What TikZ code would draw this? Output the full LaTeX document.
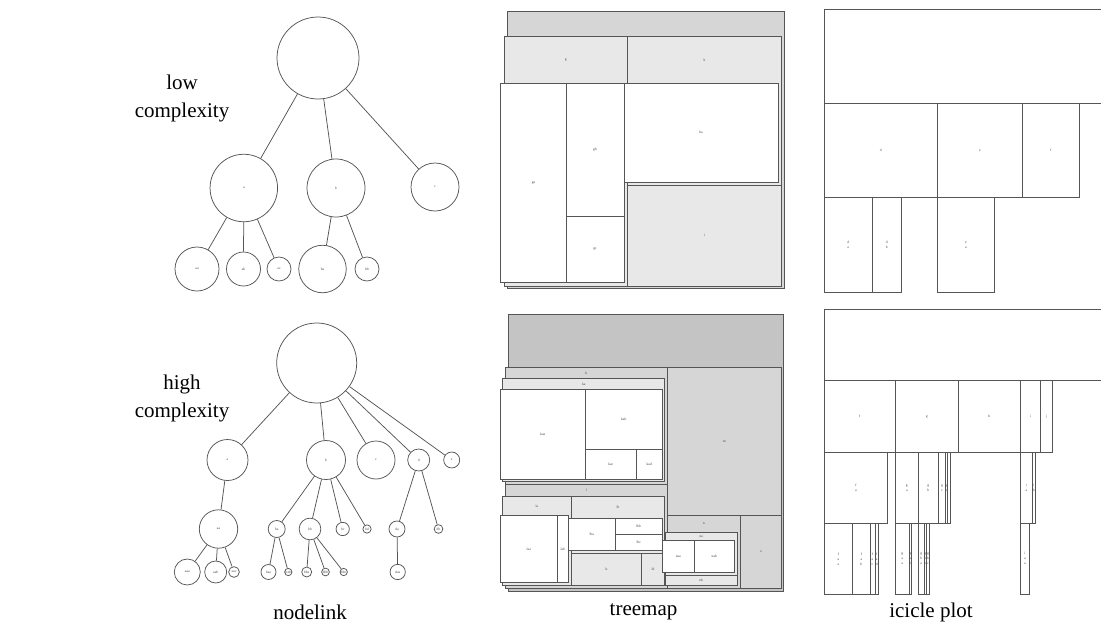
\documentclass[tikz,border=0pt]{standalone}
\usepackage{fontspec}
\setmainfont{Liberation Serif}
\definecolor{bd}{HTML}{555555}
\definecolor{txt}{HTML}{444444}
\definecolor{ga}{HTML}{C4C4C4}
\definecolor{gb}{HTML}{D6D6D6}
\definecolor{gc}{HTML}{E8E8E8}
\tikzset{
  nl/.style={circle, draw=bd, line width=0.75pt, inner sep=0pt, fill=white, font=\fontsize{3.6}{4}\selectfont, text=txt},
  edge/.style={draw=bd, line width=0.75pt},
  tm/.style={draw=bd, line width=0.75pt},
  tl/.style={font=\fontsize{3.6}{4}\selectfont, text=txt, inner sep=0pt},
  il/.style={font=\fontsize{3.6}{5}\selectfont, text=txt, inner sep=0pt, align=center},
  big/.style={font=\fontsize{21}{28}\selectfont, align=center, inner sep=0pt}
}
\newcommand\tbox[5]{\draw[tm, fill=#5] (#1,#2) rectangle (#3,#4);}
\newcommand\ibox[5]{\draw[tm, fill=white] (#1,#2) rectangle (#3,#4); \node[il] at ({(#1+#3)/2},{(#2+#4)/2}) {#5};}
\begin{document}
\begin{tikzpicture}[x=1pt, y=-1pt]
\useasboundingbox (0,0) rectangle (1101,632);

% ---------- row labels ----------
\node[big] (lowlab) at (182,98) {low\\complexity};
\node[big] (highlab) at (182,398) {high\\complexity};
\node[big] (nodelinklab) at (310,612) {nodelink};
\node[big] (treemaplab) at (643.5,612) {treemap};
\node[big] (iciclelab) at (931,612) {icicle plot};

% ---------- nodelink low ----------
\node[nl, minimum size=82pt] (Lr) at (318,58) {};
\node[nl, minimum size=67.5pt] (La) at (243.8,188) {a};
\node[nl, minimum size=58pt] (Lb) at (336,188) {b};
\node[nl, minimum size=48pt] (Lc) at (435,187) {c};
\node[nl, minimum size=44pt] (Laa) at (197,269) {aa};
\node[nl, minimum size=34pt] (Lab) at (243.5,269) {ab};
\node[nl, minimum size=24pt] (Lac) at (279,269) {ac};
\node[nl, minimum size=47.5pt] (Lba) at (322.5,269) {ba};
\node[nl, minimum size=24pt] (Lbb) at (367,269) {bb};
\foreach \p/\c in {Lr/La, Lr/Lb, Lr/Lc, La/Laa, La/Lab, La/Lac, Lb/Lba, Lb/Lbb}
  \draw[edge] (\p) -- (\c);

% ---------- nodelink high ----------
\node[nl, minimum size=80pt] (Hr) at (316.7,363) {};
\node[nl, minimum size=41pt] (Ha) at (227.5,460) {a};
\node[nl, minimum size=39pt] (Hb) at (326,460) {b};
\node[nl, minimum size=38pt] (Hc) at (376,460) {c};
\node[nl, minimum size=22pt] (Hd) at (418.7,460) {d};
\node[nl, minimum size=16pt] (He) at (451.7,460) {e};
\node[nl, minimum size=38.4pt] (Haa) at (218.5,529) {aa};
\node[nl, minimum size=17pt] (Hba) at (276.7,529) {ba};
\node[nl, minimum size=21.7pt] (Hbb) at (310,529) {bb};
\node[nl, minimum size=13.3pt] (Hbc) at (342.7,529) {bc};
\node[nl, minimum size=8.3pt] (Hbd) at (367,529) {bd};
\node[nl, minimum size=16pt] (Hda) at (397,529) {da};
\node[nl, minimum size=8.7pt] (Hdb) at (438.5,529) {db};
\node[nl, minimum size=26pt] (Haaa) at (187.3,572) {aaa};
\node[nl, minimum size=22pt] (Haab) at (215.7,572) {aab};
\node[nl, minimum size=10.7pt] (Haac) at (234,572) {aac};
\node[nl, minimum size=15pt] (Hbaa) at (268.5,572) {baa};
\node[nl, minimum size=7.3pt] (Hbab) at (288.3,572) {bab};
\node[nl, minimum size=10pt] (Hbba) at (306.7,572) {bba};
\node[nl, minimum size=7.7pt] (Hbbb) at (325.5,572) {bbb};
\node[nl, minimum size=7.3pt] (Hbbc) at (343.7,572) {bbc};
\node[nl, minimum size=15.3pt] (Hdaa) at (397.7,572) {daa};
\foreach \p/\c in {Hr/Ha, Hr/Hb, Hr/Hc, Hr/Hd, Hr/He, Ha/Haa, Haa/Haaa, Haa/Haab, Haa/Haac,
  Hb/Hba, Hb/Hbb, Hb/Hbc, Hb/Hbd, Hba/Hbaa, Hba/Hbab, Hbb/Hbba, Hbb/Hbbb, Hbb/Hbbc,
  Hd/Hda, Hd/Hdb, Hda/Hdaa}
  \draw[edge] (\p) -- (\c);

% ---------- treemap low ----------
\tbox{507.3}{11}{784.7}{288.3}{gb}
\tbox{504}{36}{627.3}{286}{gc}
\tbox{627.3}{36}{781.7}{185.7}{gc}
\tbox{627.3}{185.7}{781.7}{286}{gc}
\tbox{500.7}{83}{566.3}{282.7}{white}
\tbox{566.3}{83}{624}{216}{white}
\tbox{566.3}{216}{624}{282.7}{white}
\tbox{624}{83}{778}{182.3}{white}
\node[tl] (Tg) at (565.7,60) {g};
\node[tl] (Th) at (704.5,60) {h};
\node[tl] (Tga) at (533.5,183) {ga};
\node[tl] (Tgb) at (595,149.5) {gb};
\node[tl] (Tgc) at (595,249.3) {gc};
\node[tl] (Tha) at (701,132.7) {ha};
\node[tl] (Ti) at (704.5,235.8) {i};

% ---------- treemap high ----------
\tbox{508}{314.3}{783.7}{591}{ga}
\tbox{505.3}{367.3}{667.3}{484.3}{gb}
\tbox{505.3}{484.3}{667.3}{588.3}{gb}
\tbox{667.3}{367.3}{781.3}{515}{gb}
\tbox{667.3}{515}{740.3}{588.3}{gb}
\tbox{740.3}{515}{781.3}{588.3}{gb}
\tbox{502.7}{378.3}{664.7}{481.7}{gc}
\tbox{502.7}{496.3}{571.3}{585.7}{gc}
\tbox{571.3}{496.3}{664.7}{553.3}{gc}
\tbox{571.3}{553.3}{641.3}{585.7}{gc}
\tbox{641.3}{553.3}{664.7}{585.7}{gc}
\tbox{665}{532.7}{737.3}{575.3}{gc}
\tbox{665}{575.3}{737.3}{585.7}{gc}
\tbox{500}{389.7}{585.3}{479.3}{white}
\tbox{585.3}{389.7}{662}{449.3}{white}
\tbox{585.3}{449.3}{636.3}{479.3}{white}
\tbox{636.3}{449.3}{662}{479.3}{white}
\tbox{500.3}{515.3}{557.3}{582.3}{white}
\tbox{557.3}{515.3}{568.3}{582.3}{white}
\tbox{568.3}{518}{615.3}{550.3}{white}
\tbox{615.3}{518}{662}{534}{white}
\tbox{615.3}{534}{662}{550.3}{white}
\tbox{662.3}{540.7}{694.3}{572.3}{white}
\tbox{694.3}{540.7}{734.3}{572.3}{white}
\node[tl] (Uk) at (586.3,372.8) {k};
\node[tl] (Uka) at (583.7,384) {ka};
\node[tl] (Ukaa) at (542.7,434.5) {kaa};
\node[tl] (Ukab) at (623.7,419.5) {kab};
\node[tl] (Ukac) at (610.8,464.3) {kac};
\node[tl] (Ukad) at (649.2,464.3) {kad};
\node[tl] (Ul) at (586.3,490.3) {l};
\node[tl] (Ula) at (537,506) {la};
\node[tl] (Ulb) at (618,507) {lb};
\node[tl] (Ulaa) at (528.8,548.8) {laa};
\node[tl] (Ulab) at (562.8,548.8) {lab};
\node[tl] (Ulba) at (591.8,534.2) {lba};
\node[tl] (Ulbb) at (638.7,526) {lbb};
\node[tl] (Ulbc) at (638.7,542.2) {lbc};
\node[tl] (Ulc) at (606.3,569.5) {lc};
\node[tl] (Uld) at (653,569.5) {ld};
\node[tl] (Um) at (724.3,441.2) {m};
\node[tl] (Un) at (703.8,524) {n};
\node[tl] (Una) at (701.2,537) {na};
\node[tl] (Unaa) at (678.3,556.5) {naa};
\node[tl] (Unab) at (714.3,556.5) {nab};
\node[tl] (Unb) at (701.2,580.5) {nb};
\node[tl] (Uo) at (760.8,551.7) {o};

% ---------- icicle low ----------
\draw[tm] (1101,9) -- (824,9) -- (824,103.3) -- (1101,103.3);
\ibox{824}{103.3}{937.3}{197.7}{d}
\ibox{937.3}{103.3}{1022.7}{197.7}{e}
\ibox{1022.7}{103.3}{1079.3}{197.7}{f}
\ibox{824}{197.7}{872.3}{292.3}{d\\a}
\ibox{872.3}{197.7}{901}{292.3}{d\\b}
\ibox{937.3}{197.7}{994.7}{292.3}{e\\a}

% ---------- icicle high ----------
\draw[tm] (1101,309.7) -- (824,309.7) -- (824,380.7) -- (1101,380.7);
\ibox{824}{380.7}{895.3}{452.3}{f}
\ibox{895.3}{380.7}{958.3}{452.3}{g}
\ibox{958.3}{380.7}{1020.3}{452.3}{h}
\ibox{1020.3}{380.7}{1040.3}{452.3}{i}
\ibox{1040.3}{380.7}{1052.3}{452.3}{j}
\ibox{824}{452.3}{887.7}{523.3}{f\\a}
\ibox{895.3}{452.3}{918.3}{523.3}{g\\a}
\ibox{918.3}{452.3}{938.3}{523.3}{g\\b}
\ibox{938.3}{452.3}{945.7}{523.3}{g\\c}
\ibox{945.7}{452.3}{947.7}{523.3}{g\\d}
\ibox{947.7}{452.3}{950}{523.3}{}
\ibox{1020.3}{452.3}{1032.3}{523.3}{i\\a}
\ibox{1032.3}{452.3}{1035}{523.3}{i\\b}
\ibox{824}{523.3}{852.7}{594.3}{f\\a\\a}
\ibox{852.7}{523.3}{870}{594.3}{f\\a\\b}
\ibox{870}{523.3}{875}{594.3}{f\\a\\c}
\ibox{875}{523.3}{878.3}{594.3}{f\\a\\d}
\ibox{895.3}{523.3}{909.3}{594.3}{g\\a\\a}
\ibox{909.3}{523.3}{911.7}{594.3}{g\\a\\b}
\ibox{918.3}{523.3}{924}{594.3}{g\\b\\a}
\ibox{924}{523.3}{926.7}{594.3}{g\\b\\b}
\ibox{926.7}{523.3}{929.3}{594.3}{g\\b\\c}
\ibox{1020.3}{523.3}{1029.3}{594.3}{i\\a\\a}
\end{tikzpicture}
\end{document}
